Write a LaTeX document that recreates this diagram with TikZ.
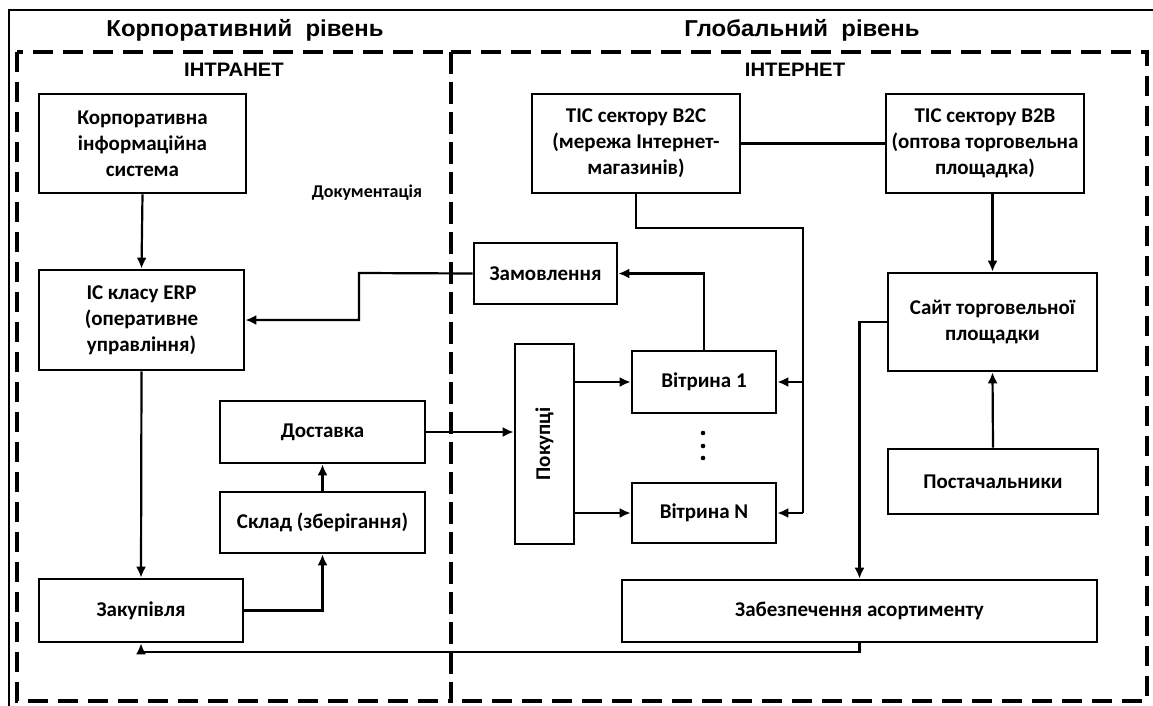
\documentclass[tikz,border=0pt]{standalone}
\usepackage{fontspec}
\setmainfont{Carlito}
\newfontfamily\titlefont{Liberation Sans}[FakeStretch=1.04]
\usetikzlibrary{arrows.meta}
\begin{document}
\begin{tikzpicture}[x=1pt,y=-1pt,
  bx/.style={draw,line width=2.6pt,align=center,inner sep=0pt,
    font=\bfseries\fontsize{21}{26}\selectfont},
  ln/.style={line width=2.2pt},
  ar/.style={line width=2.2pt,-{Latex[length=11pt,width=10pt]}},
  zone/.style={line width=3.6pt,dash pattern=on 20pt off 10pt},
  ttl/.style={font=\titlefont\bfseries\fontsize{23}{26}\selectfont},
  sub/.style={font=\titlefont\bfseries\fontsize{19.5}{22}\selectfont}]
\useasboundingbox (0,0) rectangle (1153,706);
% outer frame
\draw[line width=2.2pt] (9,720) -- (9,10) -- (1170,10);
% zones
\draw[zone] (17,52) rectangle (451,701);
\draw[zone] (451,52) rectangle (1147,701);
% titles
\node[ttl] (t1) at (245,30) {Корпоративний\ \ рівень};
\node[ttl] (t2) at (802,30) {Глобальний\ \ рівень};
\node[sub] (s1) at (234,70) {ІНТРАНЕТ};
\node[sub] (s2) at (795,70) {ІНТЕРНЕТ};
% left nodes
\node[bx,minimum width=207pt,minimum height=99pt] (kis) at (142.5,143.5) {Корпоративна\\інформаційна\\система};
\node[font=\bfseries\fontsize{18}{22}\selectfont] (doc) at (367,193) {Документація};
\node[bx,minimum width=205pt,minimum height=100pt] (erp) at (141.5,320) {ІС класу ERP\\(оперативне\\управління)};
\node[bx,minimum width=205pt,minimum height=62pt] (dost) at (322.5,432) {Доставка};
\node[bx,minimum width=205pt,minimum height=61pt] (sklad) at (322.5,522.5) {Склад (зберігання)};
\node[bx,minimum width=204pt,minimum height=63pt] (zak) at (141,610.5) {Закупівля};
% right nodes
\node[bx,minimum width=208pt,minimum height=99pt] (b2c) at (636,143.5) {ТІС сектору В2С\\(мережа Інтернет-\\магазинів)};
\node[bx,minimum width=198pt,minimum height=99pt] (b2b) at (985,143.5) {ТІС сектору В2В\\(оптова торговельна\\площадка)};
\node[bx,minimum width=143pt,minimum height=61pt] (zam) at (545.5,273.5) {Замовлення};
\node[bx,minimum width=209pt,minimum height=98pt] (sait) at (992.5,322) {Сайт торговельної\\площадки};
\node[bx,minimum width=59pt,minimum height=200pt] (pok) at (544.5,444) {};
\node[font=\bfseries\fontsize{21}{26}\selectfont,rotate=90] (pokt) at (pok.center) {Покупці};
\node[bx,minimum width=144pt,minimum height=62pt] (v1) at (704,382) {Вітрина 1};
\node[bx,minimum width=144pt,minimum height=60pt] (vn) at (704,513) {Вітрина N};
\node[bx,minimum width=210pt,minimum height=65pt] (post) at (993,481.5) {Постачальники};
\node[bx,minimum width=475pt,minimum height=62pt] (zab) at (859.5,611) {Забезпечення асортименту};
% dots
\foreach \yy [count=\i] in {433,446,458} \fill (703,\yy) circle (2.3pt) coordinate (d\i);
% coordinates
\coordinate (zk) at (359,273);
\coordinate (bus) at (803,228);
\coordinate (sz) at (859.5,322);
\coordinate (bl) at (859.5,652);
% connectors
\draw[ar] (kis.south) -- (erp.north);
\draw[ar] (erp.south) -- (zak.north);
\draw[ar] (zak.east) -| (sklad.south);
\draw[ar] (sklad.north) -- (dost.south);
\draw[ar] (dost.east) -- (dost.east -| pok.west);
\draw[ar] (zam.west) -- (zk) |- (erp.east);
\draw[ar] (v1.north) |- (zam.east);
\draw[ar] (v1.west -| pok.east) -- (v1.west);
\draw[ar] (vn.west -| pok.east) -- (vn.west);
\draw[ln] (b2c.south) |- (bus) -- (bus |- vn.east);
\draw[ar] (bus |- vn.east) -- (vn.east);
\draw[ar] (bus |- v1.east) -- (v1.east);
\draw[ln] (b2c.east) -- (b2b.west);
\draw[ar] (sait.north |- b2b.south) -- (sait.north);
\draw[ar] (post.north) -- (sait.south);
\draw[ar] (sait.west |- sz) -- (sz) -- (zab.north);
\draw[ar] (zab.south) -- (bl) -| (zak.south);
\end{tikzpicture}
\end{document}
